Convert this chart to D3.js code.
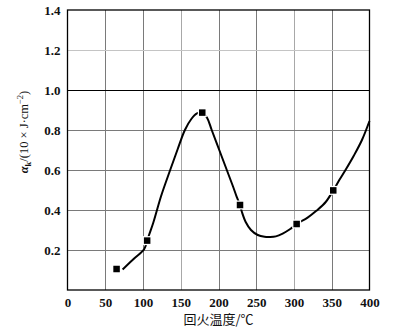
<!DOCTYPE html>
<html>
<head>
<meta charset="utf-8">
<script src="https://cdn.jsdelivr.net/npm/d3@7"></script>
<style>
  html, body { margin: 0; padding: 0; background: #fff; }
  svg { display: block; }
  .tick-label { font-family: "Liberation Serif", "DejaVu Serif", serif; font-weight: bold; font-size: 13px; fill: #111; }
</style>
</head>
<body>
<svg id="chart" width="397" height="328"></svg>
<script>
// Measured impact toughness vs. tempering temperature
const temps      = [65, 105.5, 178.5, 228.5, 303.5, 352];
const toughness  = [0.105, 0.247, 0.887, 0.425, 0.33, 0.498];

// Hand-faired trend curve through the measurements
const curveT = [73, 89, 101.5, 105.5, 108, 113.5, 124, 136, 146, 155.5, 164, 171.5, 178.5, 185, 191, 201, 211, 219, 224, 228.5, 231, 236, 243, 252, 261, 268, 276, 285, 295, 303.5, 318, 330, 342, 352, 360, 369, 379, 390, 400];
const curveV = [0.103, 0.16, 0.204, 0.247, 0.275, 0.335, 0.47, 0.6, 0.705, 0.8, 0.855, 0.883, 0.887, 0.86, 0.8, 0.7, 0.6, 0.52, 0.467, 0.425, 0.39, 0.34, 0.3, 0.275, 0.266, 0.265, 0.268, 0.282, 0.305, 0.33, 0.362, 0.397, 0.44, 0.498, 0.55, 0.605, 0.67, 0.75, 0.845];

const xTicks = [0, 50, 100, 150, 200, 250, 300, 350, 400];
const yTicks = [0.2, 0.4, 0.6, 0.8, 1.0, 1.2, 1.4];
const yTickLabels = ["0.2", "0.4", "0.6", "0.8", "1.0", "1.2", "1.4"];

const margin = { left: 67.5, right: 27.5, top: 10, bottom: 38 };
const W = 397, H = 328;
const svg = d3.select("#chart");

const x = d3.scaleLinear().domain([0, 400]).range([margin.left, W - margin.right]);
const y = d3.scaleLinear().domain([0, 1.4]).range([H - margin.bottom, margin.top]);

// vertical grid
svg.append("g")
  .selectAll("line")
  .data(xTicks.slice(1, -1))
  .join("line")
  .attr("x1", d => Math.round(x(d)) + 0.5).attr("x2", d => Math.round(x(d)) + 0.5)
  .attr("y1", y(1.4)).attr("y2", y(0))
  .attr("stroke", d => (d === 150 || d === 300) ? "#a8a8a8" : "#7a7a7a")
  .attr("stroke-width", 1);

// horizontal grid
svg.append("g")
  .selectAll("line")
  .data(yTicks.slice(0, -1))
  .join("line")
  .attr("x1", x(0)).attr("x2", x(400))
  .attr("y1", d => Math.round(y(d)) + 0.5).attr("y2", d => Math.round(y(d)) + 0.5)
  .attr("stroke", d => d === 1.0 ? "#000" : (d === 1.2 ? "#c4c4c4" : "#7a7a7a"))
  .attr("stroke-width", d => d === 1.0 ? 1.2 : 1);

// frame
svg.append("rect")
  .attr("x", x(0)).attr("y", y(1.4))
  .attr("width", x(400) - x(0)).attr("height", y(0) - y(1.4))
  .attr("fill", "none").attr("stroke", "#000").attr("stroke-width", 1.3);

// axes (labels only, no tick marks)
const xAxis = d3.axisBottom(x).tickValues(xTicks).tickSize(0).tickPadding(8).tickFormat(d3.format("d"));
svg.append("g")
  .attr("transform", `translate(0,${y(0)})`)
  .call(xAxis)
  .call(g => g.select(".domain").remove())
  .call(g => g.selectAll("text").attr("class", "tick-label").attr("font-family", null).attr("font-size", null));

const yAxis = d3.axisLeft(y).tickValues(yTicks).tickSize(0).tickPadding(7)
  .tickFormat((d, i) => yTickLabels[i]);
svg.append("g")
  .attr("transform", `translate(${x(0)},0)`)
  .call(yAxis)
  .call(g => g.select(".domain").remove())
  .call(g => g.selectAll("text").attr("class", "tick-label").attr("font-family", null).attr("font-size", null));

// trend curve
const line = d3.line()
  .x((d, i) => x(curveT[i]))
  .y((d, i) => y(curveV[i]))
  .curve(d3.curveCatmullRom.alpha(0.5));
svg.append("path")
  .datum(curveT)
  .attr("d", line)
  .attr("fill", "none")
  .attr("stroke", "#000")
  .attr("stroke-width", 2);

// measurement markers
const s = 6.5;
svg.append("g")
  .selectAll("rect")
  .data(temps)
  .join("rect")
  .attr("x", (d, i) => x(d) - s / 2)
  .attr("y", (d, i) => y(toughness[i]) - s / 2)
  .attr("width", s).attr("height", s)
  .attr("fill", "#000")
  .attr("stroke", "#fff")
  .attr("stroke-width", 2.5)
  .attr("paint-order", "stroke");

// axis titles
svg.append("text")
  .attr("x", (x(0) + x(400)) / 2)
  .attr("y", H - 4)
  .attr("text-anchor", "middle")
  .attr("font-family", "'Noto Sans CJK SC', sans-serif")
  .attr("font-size", 13)
  .attr("fill", "#111")
  .text("回火温度/℃");

const yt = svg.append("text")
  .attr("transform", `translate(28,${(y(0) + y(1.4)) / 2 - 18}) rotate(-90)`)
  .attr("text-anchor", "middle")
  .attr("font-family", "'Liberation Serif', serif")
  .attr("font-size", 12.5)
  .attr("fill", "#111");
yt.append("tspan").attr("font-weight", "bold").attr("font-style", "italic").text("α");
yt.append("tspan").attr("font-size", 8.5).attr("dy", 3).attr("font-weight", "bold").text("k");
yt.append("tspan").attr("dy", -3).text("/(10 × J·cm");
yt.append("tspan").attr("font-size", 8.5).attr("dy", -5).text("−2");
yt.append("tspan").attr("dy", 5).text(")");
</script>
</body>
</html>
